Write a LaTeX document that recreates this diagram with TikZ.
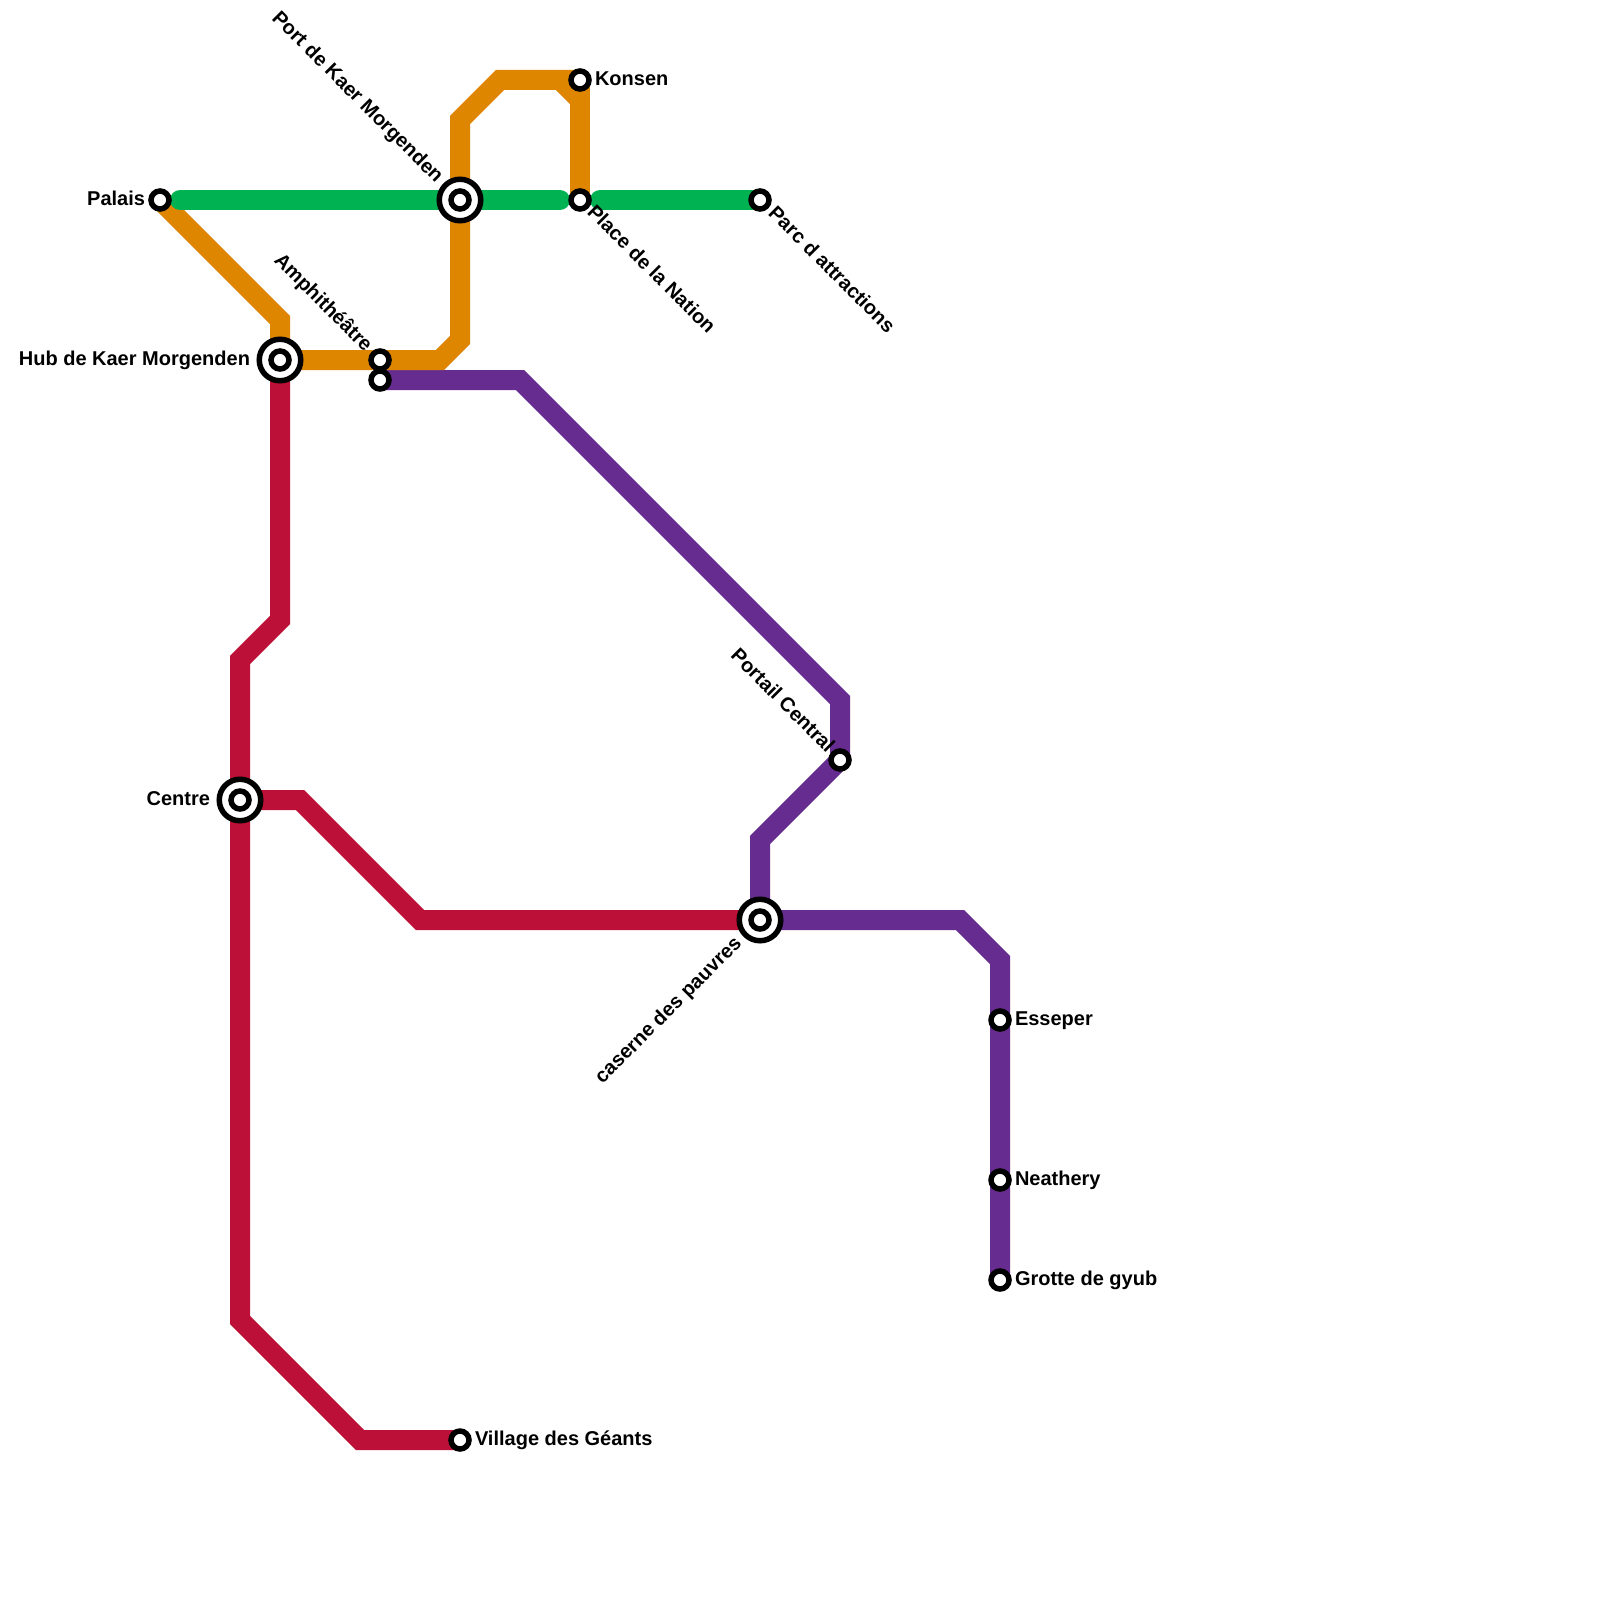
\documentclass[tikz,border=0pt]{standalone}
\usepackage{fontspec}
\setmainfont{Liberation Sans}
\usetikzlibrary{backgrounds}
\definecolor{orangeline}{HTML}{DF8600}
\definecolor{greenline}{HTML}{00B251}
\definecolor{redline}{HTML}{BD1038}
\definecolor{purpleline}{HTML}{662C90}
\tikzset{
  x=0.5pt,y=-0.5pt,
  stn/.style={circle,draw=black,fill=white,line width=2.75pt,minimum size=9pt,inner sep=0pt,outer sep=0pt},
  bigstn/.style={circle,draw=black,fill=white,line width=2.75pt,minimum size=20.75pt,inner sep=0pt,outer sep=0pt},
  metro/.style={line width=10pt,line join=miter,miter limit=10},
  lbl/.style={font=\bfseries\fontsize{10}{12}\selectfont,inner sep=0pt,outer sep=0pt,text=black,text height=7pt,text depth=2pt},
}
\begin{document}
\begin{tikzpicture}
\useasboundingbox (0,0) rectangle (1600,1600);
% stations
\node[stn] (palais) at (160,200) {};
\node[bigstn] (port) at (460,200) {};
\node[stn] (portc) at (460,200) {};
\node[stn] (nation) at (580,200) {};
\node[stn] (konsen) at (580,80) {};
\node[stn] (parc) at (760,200) {};
\node[bigstn] (hub) at (280,360) {};
\node[stn] (hubc) at (280,360) {};
\node[stn] (amphiA) at (380,360) {};
\node[stn] (amphiB) at (380,380) {};
\node[bigstn] (centre) at (240,800) {};
\node[stn] (centrec) at (240,800) {};
\node[stn] (portail) at (840,760) {};
\node[bigstn] (caserne) at (760,920) {};
\node[stn] (casernec) at (760,920) {};
\node[stn] (esseper) at (1000,1020) {};
\node[stn] (neathery) at (1000,1180) {};
\node[stn] (grotte) at (1000,1280) {};
\node[stn] (village) at (460,1440) {};
\coordinate (greenA) at (180,200);
\coordinate (greenB) at (560,200);
\coordinate (greenC) at (600,200);
% lines
\begin{scope}[on background layer]
\draw[metro,redline] (hub.center) -- (280,620) -- (240,660) -- (240,1320) -- (360,1440) -- (village.center);
\draw[metro,redline] (centre.center) -- (300,800) -- (420,920) -- (caserne.center);
\draw[metro,purpleline] (amphiB.center) -- (520,380) -- (840,700) -- (portail.center) -- (760,840) -- (caserne.center) -- (960,920) -- (1000,960) -- (grotte.center);
\draw[metro,orangeline] (palais.center) -- (280,320) -- (hub.center) -- (440,360) -- (460,340) -- (460,120) -- (500,80) -- (konsen.center);
\draw[metro,orangeline] (560,80) -- (580,100);
\draw[metro,orangeline] (konsen.center) -- (nation.center);
\draw[metro,greenline,line cap=round] (greenA) -- (greenB);
\draw[metro,greenline,line cap=round] (greenC) -- (parc.center);
\end{scope}
% labels
\node[lbl,anchor=east] (lpalais) at (145,200) {Palais};
\node[lbl,anchor=east] (lhub) at (250,360) {Hub de Kaer Morgenden};
\node[lbl,anchor=east] (lcentre) at (210,800) {Centre};
\node[lbl,anchor=west] (lkonsen) at (595,81) {Konsen};
\node[lbl,anchor=west] (lesseper) at (1015,1020) {Esseper};
\node[lbl,anchor=west] (lneathery) at (1015,1180) {Neathery};
\node[lbl,anchor=west] (lgrotte) at (1015,1280) {Grotte de gyub};
\node[lbl,anchor=west] (lvillage) at (475,1440) {Village des Géants};
\node[lbl,anchor=east,rotate=-45] (lport) at (439,180) {Port de Kaer Morgenden};
\node[lbl,anchor=east,rotate=-45] (lamphi) at (368,349) {Amphithéâtre};
\node[lbl,anchor=east,rotate=-45] (lportail) at (830,750) {Portail Central};
\node[lbl,anchor=west,rotate=-45] (lnation) at (590,210) {Place de la Nation};
\node[lbl,anchor=west,rotate=-45] (lparc) at (771,211) {Parc d attractions};
\node[lbl,anchor=east,rotate=45] (lcaserne) at (739,941) {caserne des pauvres};
\end{tikzpicture}
\end{document}
